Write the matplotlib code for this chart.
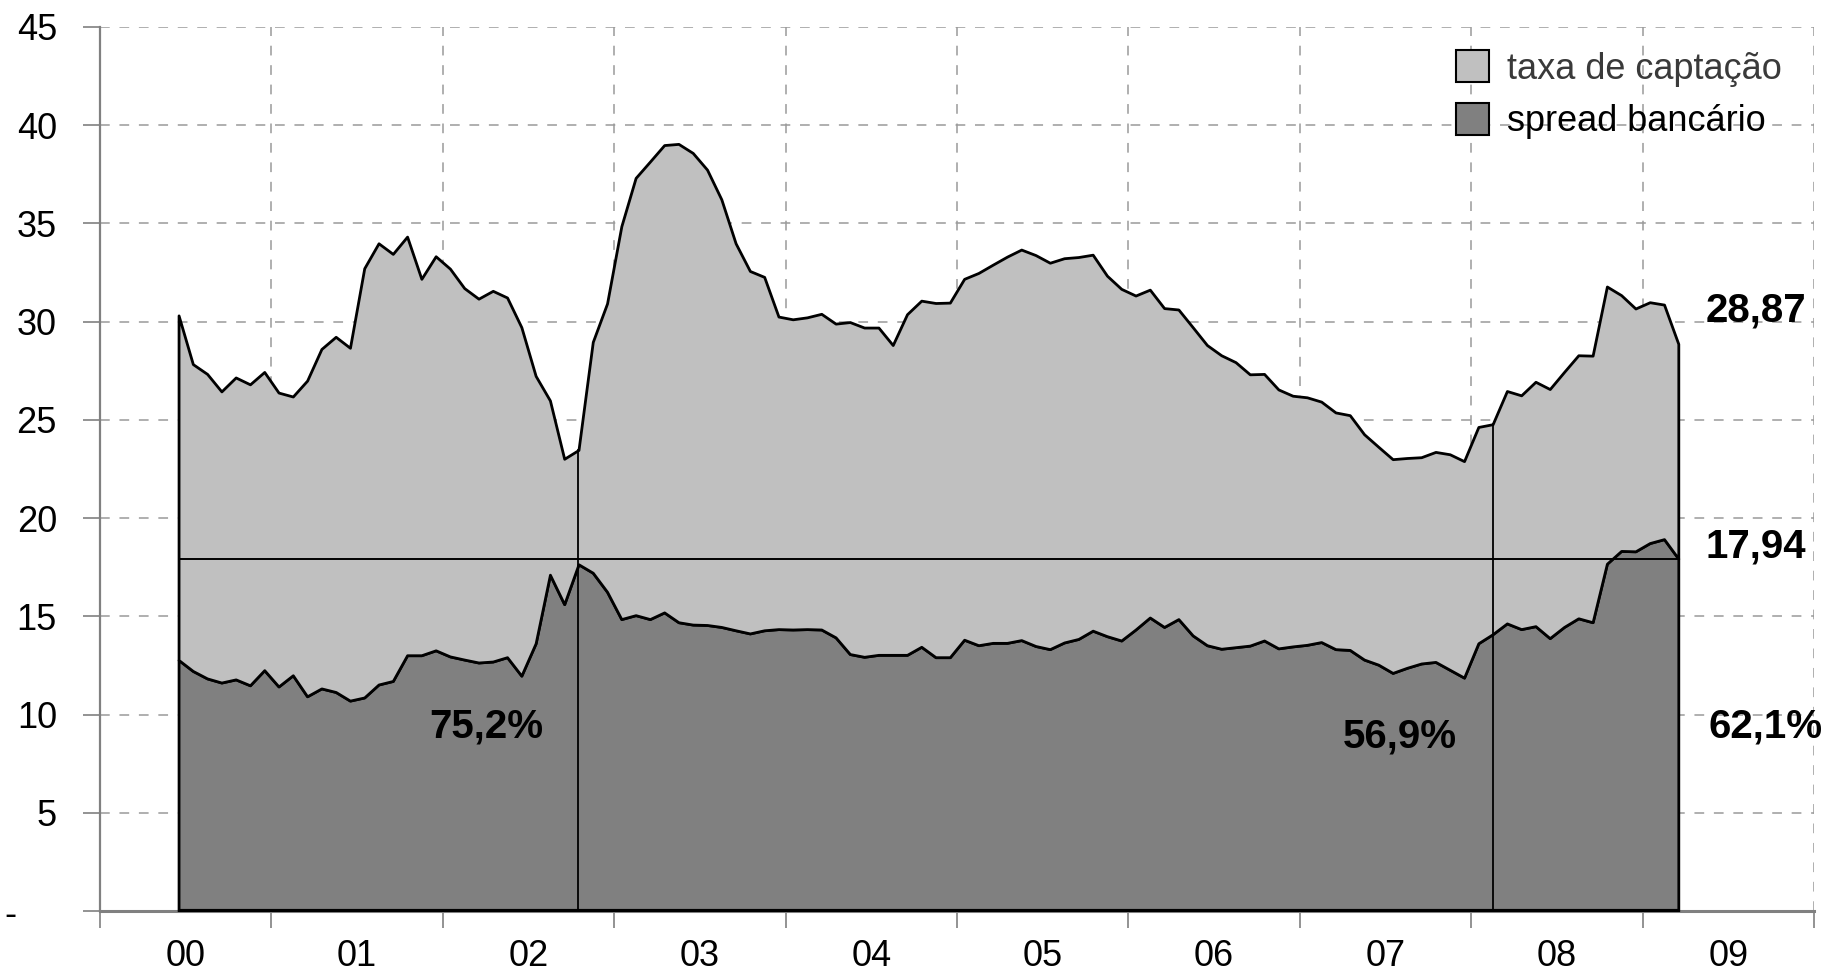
import numpy as np
import pandas as pd
import matplotlib
matplotlib.use("Agg")
import matplotlib.pyplot as plt
from matplotlib.patches import Patch

plt.rcParams["font.family"] = ["Liberation Sans", "DejaVu Sans"]
plt.rcParams["lines.scale_dashes"] = False

# Monthly series, Jun/2000 - Mar/2009 (% a.a.)
meses = pd.period_range("2000-06", "2009-03", freq="M")

# total lending rate (captação + spread)
taxa_total = [
    30.32, 27.84, 27.34, 26.45, 27.16, 26.81, 27.44,
    26.39, 26.19, 27.00, 28.61, 29.23, 28.67, 32.72, 33.99, 33.45, 34.33, 32.18, 33.33,
    32.70, 31.71, 31.17, 31.57, 31.23, 29.72, 27.24, 25.99, 23.02, 23.47, 28.97, 30.93,
    34.86, 37.32, 38.15, 38.99, 39.05, 38.59, 37.74, 36.23, 33.99, 32.58, 32.28, 30.26,
    30.12, 30.22, 30.40, 29.90, 29.98, 29.70, 29.70, 28.81, 30.38, 31.07, 30.95, 30.97,
    32.18, 32.48, 32.90, 33.31, 33.67, 33.39, 33.00, 33.23, 33.29, 33.41, 32.34, 31.67,
    31.33, 31.63, 30.69, 30.62, 29.72, 28.81, 28.29, 27.94, 27.32, 27.34, 26.55, 26.23,
    26.15, 25.93, 25.38, 25.24, 24.27, 23.63, 23.00, 23.06, 23.10, 23.37, 23.25, 22.90,
    24.64, 24.78, 26.47, 26.25, 26.94, 26.57, 27.44, 28.29, 28.27, 31.79, 31.35, 30.67,
    30.99, 30.87, 28.87,
]

# spread bancário
spread = [
    12.78, 12.22, 11.84, 11.63, 11.79, 11.49, 12.26,
    11.43, 12.00, 10.93, 11.33, 11.15, 10.71, 10.87, 11.53, 11.71, 13.02, 13.02, 13.27,
    12.96, 12.80, 12.65, 12.70, 12.92, 11.98, 13.63, 17.12, 15.62, 17.65, 17.22, 16.25,
    14.86, 15.06, 14.86, 15.20, 14.70, 14.58, 14.56, 14.46, 14.29, 14.13, 14.29, 14.35,
    14.33, 14.35, 14.33, 13.93, 13.08, 12.94, 13.04, 13.04, 13.04, 13.45, 12.92, 12.92,
    13.81, 13.53, 13.65, 13.65, 13.79, 13.49, 13.33, 13.67, 13.85, 14.27, 13.99, 13.77,
    14.33, 14.94, 14.46, 14.86, 14.03, 13.53, 13.35, 13.43, 13.51, 13.77, 13.37, 13.47,
    13.55, 13.69, 13.33, 13.29, 12.80, 12.54, 12.12, 12.38, 12.60, 12.68, 12.28, 11.88,
    13.63, 14.09, 14.64, 14.35, 14.50, 13.89, 14.46, 14.90, 14.70, 17.68, 18.33, 18.31,
    18.73, 18.93, 17.94,
]

# months highlighted with a vertical marker
marcos = ["2002-10", "2008-02"]

anos = list(range(2000, 2010))
rotulos_anos = ["00", "01", "02", "03", "04", "05", "06", "07", "08", "09"]
y_ticks = [0, 5, 10, 15, 20, 25, 30, 35, 40, 45]
y_labels = ["-    ", "5", "10", "15", "20", "25", "30", "35", "40", "45"]

CLARO = "#c0c0c0"
ESCURO = "#808080"
GRID = "#9a9a9a"
LW = 2.0


def fmt(v, casas):
    return f"{v:.{casas}f}".replace(".", ",")


taxa_total = np.array(taxa_total)
spread = np.array(spread)
x = np.asarray(meses.year + (meses.month - 0.5) / 12.0, dtype=float)

fig = plt.figure(figsize=(18.29, 9.72), dpi=100)
ax = fig.add_axes([100 / 1829, 1 - 911 / 972, 1714 / 1829, 884 / 972])

# stacked areas
ax.fill_between(x, 0, spread, facecolor=ESCURO, edgecolor="black", linewidth=LW, zorder=3)
ax.fill_between(x, spread, taxa_total, facecolor=CLARO, edgecolor="black", linewidth=LW, zorder=3)
ax.plot([x[0], x[-1]], [0, 0], color="black", lw=3, zorder=4, solid_capstyle="butt")

# reference level: last spread value
ultimo_spread = spread[-1]
ultimo_total = taxa_total[-1]
ax.plot([x[0], x[-1]], [ultimo_spread, ultimo_spread], color="black", lw=1.4, zorder=5)

# vertical markers with the spread share of the total rate
alturas_rotulo = [9.4, 8.9]
for m, yl in zip(marcos, alturas_rotulo):
    i = list(meses.astype(str)).index(m)
    ax.plot([x[i], x[i]], [0, taxa_total[i]], color="black", lw=1.3, zorder=5)
    share = spread[i] / taxa_total[i] * 100
    ax.text(x[i] - 0.54, yl, fmt(share, 1) + "%", ha="center", va="center",
            fontsize=29, fontweight="bold", zorder=6)

ax.text(x[-1] + 0.51, 9.4, fmt(ultimo_spread / ultimo_total * 100, 1) + "%",
        ha="center", va="center", fontsize=29, fontweight="bold", zorder=6)
ax.text(x[-1] + 0.45, ultimo_total + 1.7, fmt(ultimo_total, 2), ha="center", va="center",
        fontsize=29, fontweight="bold", zorder=6)
ax.text(x[-1] + 0.45, ultimo_spread + 0.6, fmt(ultimo_spread, 2), ha="center", va="center",
        fontsize=29, fontweight="bold", zorder=6)

# axes
ax.set_xlim(2000, 2010)
ax.set_ylim(0, 45)
ax.set_xticks(anos + [2010])
ax.set_xticklabels([])
ax.set_xticks([a + 0.5 for a in anos], minor=True)
ax.set_xticklabels(rotulos_anos, minor=True)
ax.tick_params(axis="x", which="major", length=12, width=1.2, color=ESCURO, direction="out")
ax.tick_params(axis="x", which="minor", length=0, pad=20, labelsize=26)
ax.set_yticks(y_ticks)
ax.set_yticklabels(y_labels)
ax.tick_params(axis="y", length=12, width=1.2, color=ESCURO, direction="out", pad=19, labelsize=26)

for a in anos[1:] + [2010]:
    ax.axvline(a, color=GRID, lw=1.1, ls=(0, (7, 7)), zorder=1)
for v in y_ticks[1:]:
    ax.axhline(v, color=GRID, lw=1.1, ls=(0, (7, 7)), zorder=1)

for s in ("top", "right"):
    ax.spines[s].set_visible(False)
ax.spines["left"].set_color(ESCURO)
ax.spines["left"].set_linewidth(1.6)
ax.spines["bottom"].set_color(ESCURO)
ax.spines["bottom"].set_linewidth(2.2)

handles = [
    Patch(facecolor=CLARO, edgecolor="black", linewidth=1.5, label="taxa de captação"),
    Patch(facecolor=ESCURO, edgecolor="black", linewidth=1.5, label="spread bancário"),
]
leg = ax.legend(handles=handles, loc="upper left", bbox_to_anchor=(1456 / 1829, 1 - 50 / 972),
                bbox_transform=fig.transFigure, frameon=False, fontsize=26,
                handlelength=0.9, handleheight=1.0, handletextpad=0.5, labelspacing=0.45,
                borderpad=0, borderaxespad=0)
leg.get_texts()[0].set_color("#3a3a3a")

fig.savefig("out.png", dpi=100, facecolor="white")
